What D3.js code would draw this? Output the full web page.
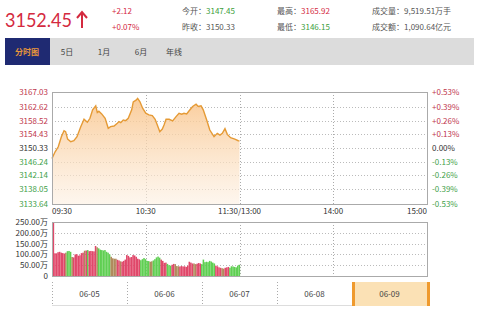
<!DOCTYPE html>
<html>
<head>
<meta charset="utf-8">
<script src="https://cdn.jsdelivr.net/npm/d3@7"></script>
<style>
  body { margin: 0; background: #fff; font-family: "Noto Sans CJK SC", "DejaVu Sans", sans-serif; }
  svg { display: block; }
</style>
</head>
<body>
<div id="chart"></div>
<script>
// header numbers
var lastPrice = "3152.45", change = "+2.12", changePct = "+0.07%";
var openPrice = "3147.45", prevClose = 3150.33, highPrice = "3165.92", lowPrice = "3146.15";
var volumeText = "9,519.51万手", amountText = "1,090.64亿元";
var tabs = ["分时图", "5日", "1月", "6月", "年线"];

// price axis
var priceTicks = [3167.03, 3162.62, 3158.52, 3154.43, 3150.33, 3146.24, 3142.14, 3138.05, 3133.64];
var pctTicks = ["+0.53%", "+0.39%", "+0.26%", "+0.13%", "0.00%", "-0.13%", "-0.26%", "-0.39%", "-0.53%"];
var timeLabels = ["09:30", "10:30", "11:30/13:00", "14:00", "15:00"];
var timeMinutes = [0, 60, 120, 180, 240];

// intraday price, minute after open
var minutes = [0, 2, 4, 6, 7.7, 8.7, 10, 12, 14, 16, 18.4, 20.5, 22.6, 24.3, 26, 28, 29, 30, 31.8, 34,
  36, 37.5, 39.7, 41.8, 42.9, 44, 45.6, 47.2, 48.8, 51, 52, 53.8, 54.8, 56.3, 58, 60, 62, 64.2, 66, 67.4,
  69, 70.6, 71.7, 73, 75, 77.2, 79.4, 81.3, 83, 84.5, 86.2, 87.9, 90, 92.2, 93.6, 95.4, 96.8, 99, 101, 103.7,
  105.8, 107.5, 109, 110.7, 112.2, 114.3, 117, 119.2, 120];
var prices = [3147.2, 3149.2, 3150.7, 3153.7, 3155.5, 3155.2, 3153.0, 3152.2, 3152.5, 3153.7, 3156.7, 3158.9, 3158.0, 3159.2, 3161.7, 3162.9, 3160.9, 3161.3, 3160.5, 3159.2,
  3156.2, 3156.7, 3156.9, 3157.7, 3158.2, 3157.9, 3158.7, 3158.5, 3159.2, 3161.7, 3164.1, 3164.6, 3165.1, 3164.1, 3162.2, 3160.7, 3160.2, 3160.0, 3158.9, 3157.2,
  3155.2, 3156.0, 3157.2, 3158.9, 3158.9, 3158.4, 3159.7, 3160.7, 3160.4, 3160.7, 3160.5, 3161.5, 3162.7, 3163.4, 3162.7, 3162.9, 3161.7, 3158.7, 3155.7, 3153.7,
  3154.7, 3154.2, 3154.7, 3156.1, 3154.4, 3153.4, 3153.0, 3152.5, 3152.45];

// volume per minute (万), colour flag: r up, g down, b flat
var volTicks = [250, 200, 150, 100, 50, 0];
var volumes = [250, 105, 105, 110, 112, 108, 106, 104, 108, 115, 116, 112, 88, 86, 100, 101, 94, 96, 106, 108,
  117, 118, 120, 115, 116, 115, 114, 139, 133, 128, 122, 120, 118, 120, 112, 108, 100, 89, 82, 80,
  80, 75, 72, 68, 66, 70, 76, 97, 93, 86, 88, 97, 95, 89, 80, 77, 73, 78, 83, 78,
  70, 69, 66, 68, 72, 78, 86, 90, 85, 76, 70, 61, 62, 56, 50, 48, 52, 56, 55, 46,
  45, 44, 46, 44, 45, 42, 48, 66, 62, 58, 58, 55, 57, 60, 58, 55, 76, 64, 66, 64,
  70, 67, 62, 58, 48, 45, 40, 38, 36, 34, 38, 40, 42, 38, 45, 44, 42, 40, 48, 52];
var volColors = ("rrrrrrrrbgggbrrrrrrr" + "brgrrrrrbggggggggbbb" + "brrbrrrrrrrrrrrrgggg" +
  "ggbbgggggrrrrgggrrbb" + "brrrrrrrrrbbrrrggggg" + "ggggrrrrbbrrrggggggg").split("");
var dates = ["06-05", "06-06", "06-07", "06-08", "06-09"];

var W = 480, H = 311;
var red = "#d42a3f", green = "#3c9e3c";
var svg = d3.select("#chart").append("svg").attr("width", W).attr("height", H);

// ---- header
svg.append("text").attr("x", 5).attr("y", 27).attr("font-size", 20).attr("fill", red)
  .attr("font-family", "Lato, 'DejaVu Sans', sans-serif")
  .attr("textLength", 67).attr("lengthAdjust", "spacingAndGlyphs").text(lastPrice);
// arrow
svg.append("path").attr("d", "M82,13 L82,28 M77,18 L82,12 L87,18").attr("stroke", red)
  .attr("stroke-width", 2).attr("fill", "none");
svg.append("text").attr("x", 112).attr("y", 14).attr("font-size", 8).attr("fill", red).text(change);
svg.append("text").attr("x", 112).attr("y", 30).attr("font-size", 8).attr("fill", red).text(changePct);

function infoLine(x, y, label, val, col) {
  var t = svg.append("text").attr("x", x).attr("y", y).attr("font-size", 8).attr("fill", "#555");
  t.append("tspan").text(label + "：");
  t.append("tspan").attr("fill", col).text(val);
}
infoLine(182, 14, "今开", openPrice, green);
infoLine(182, 30, "昨收", prevClose.toFixed(2), "#555");
infoLine(277, 14, "最高", highPrice, red);
infoLine(277, 30, "最低", lowPrice, green);
infoLine(372, 14, "成交量", volumeText, "#555");
infoLine(372, 30, "成交额", amountText, "#555");

// ---- tabs
svg.append("rect").attr("x", 5).attr("y", 38).attr("width", 469).attr("height", 27).attr("fill", "#dcdcdc");
svg.append("rect").attr("x", 5).attr("y", 38).attr("width", 45).attr("height", 27).attr("fill", "#1f2a72");
var tabX = [27, 67, 104, 141, 174];
svg.selectAll(".tab").data(tabs).enter().append("text")
  .attr("x", function (d, i) { return tabX[i]; }).attr("y", 55)
  .attr("text-anchor", "middle").attr("font-size", 8)
  .attr("fill", function (d, i) { return i == 0 ? "#e8963a" : "#444"; })
  .attr("font-weight", function (d, i) { return i == 0 ? "bold" : "normal"; })
  .text(function (d) { return d; });

// ---- scales
var x = d3.scaleLinear().domain([0, 240]).range([52, 427]);
var y = d3.scaleLinear().domain([priceTicks[8], priceTicks[0]]).range([204, 92]);
var yv = d3.scaleLinear().domain([0, 250]).range([276, 222]);

// price grid
var grid = svg.append("g");
grid.selectAll("line.h").data(priceTicks.slice(1, 8)).enter().append("line")
  .attr("x1", 52).attr("x2", 427)
  .attr("y1", function (d) { return Math.round(y(d)) + 0.5; })
  .attr("y2", function (d) { return Math.round(y(d)) + 0.5; })
  .attr("stroke", "#bbb").attr("stroke-dasharray", "1,2");
grid.selectAll("line.v").data([60, 120, 180]).enter().append("line")
  .attr("x1", function (d) { return Math.round(x(d)) + 0.5; })
  .attr("x2", function (d) { return Math.round(x(d)) + 0.5; })
  .attr("y1", 92).attr("y2", 204)
  .attr("stroke", "#aaa").attr("stroke-dasharray", "1,2");

// area + line
var defs = svg.append("defs");
var grad = defs.append("linearGradient").attr("id", "fillGrad").attr("x1", 0).attr("y1", 0).attr("x2", 0).attr("y2", 1);
grad.append("stop").attr("offset", "0%").attr("stop-color", "#f9c48a").attr("stop-opacity", 0.85);
grad.append("stop").attr("offset", "100%").attr("stop-color", "#fdf0e2").attr("stop-opacity", 0.6);

var pts = minutes.map(function (m, i) { return [m, prices[i]]; });
var area = d3.area().x(function (d) { return x(d[0]); }).y0(204).y1(function (d) { return y(d[1]); });
var line = d3.line().x(function (d) { return x(d[0]); }).y(function (d) { return y(d[1]); });
svg.append("path").datum(pts).attr("d", area).attr("fill", "url(#fillGrad)");
svg.append("path").datum(pts).attr("d", line).attr("fill", "none").attr("stroke", "#e59a35").attr("stroke-width", 1.4);

svg.append("rect").attr("x", 52.5).attr("y", 92.5).attr("width", 375).attr("height", 112)
  .attr("fill", "none").attr("stroke", "#aaa");

// price labels
function tickCol(i) { return i < 4 ? "#c0364c" : (i == 4 ? "#333" : "#3f9f4a"); }
svg.selectAll(".pl").data(priceTicks).enter().append("text")
  .attr("x", 48).attr("y", function (d) { return y(d) + 3; })
  .attr("text-anchor", "end").attr("font-size", 8)
  .attr("fill", function (d, i) { return tickCol(i); })
  .text(function (d) { return d.toFixed(2); });
svg.selectAll(".pr").data(pctTicks).enter().append("text")
  .attr("x", 432).attr("y", function (d, i) { return y(priceTicks[i]) + 3; })
  .attr("font-size", 8)
  .attr("fill", function (d, i) { return tickCol(i); })
  .text(function (d) { return d; });

// time labels
svg.selectAll(".tl").data(timeLabels).enter().append("text")
  .attr("x", function (d, i) { return x(timeMinutes[i]); }).attr("y", 214)
  .attr("text-anchor", function (d, i) { return i == 0 ? "start" : (i == 4 ? "end" : "middle"); })
  .attr("font-size", 8).attr("fill", "#333")
  .text(function (d) { return d; });

// ---- volume
svg.selectAll("line.vh").data(volTicks.slice(1, 5)).enter().append("line")
  .attr("x1", 52).attr("x2", 427)
  .attr("y1", function (d) { return Math.round(yv(d)) + 0.5; })
  .attr("y2", function (d) { return Math.round(yv(d)) + 0.5; })
  .attr("stroke", "#bbb").attr("stroke-dasharray", "1,2");
svg.selectAll("line.vv").data([60, 120, 180]).enter().append("line")
  .attr("x1", function (d) { return Math.round(x(d)) + 0.5; })
  .attr("x2", function (d) { return Math.round(x(d)) + 0.5; })
  .attr("y1", 222).attr("y2", 276)
  .attr("stroke", "#aaa").attr("stroke-dasharray", "1,2");

var colMap = { r: "#e0486a", g: "#5fcf52", b: "#b08a5c" };
var bw = x(1) - x(0);
svg.selectAll("rect.vol").data(volumes).enter().append("rect")
  .attr("x", function (d, i) { return x(i) + 0.6; })
  .attr("y", function (d) { return yv(d); })
  .attr("width", bw)
  .attr("height", function (d) { return 276 - yv(d); })
  .attr("fill", function (d, i) { return colMap[volColors[i]]; });

svg.append("rect").attr("x", 52.5).attr("y", 222.5).attr("width", 375).attr("height", 54)
  .attr("fill", "none").attr("stroke", "#aaa");

svg.selectAll(".vl").data(volTicks).enter().append("text")
  .attr("x", 48).attr("y", function (d) { return yv(d) + 3; })
  .attr("text-anchor", "end").attr("font-size", 8).attr("fill", "#333")
  .text(function (d) { return d == 0 ? "0" : d.toFixed(2) + "万"; });

// ---- date navigator
var nx = d3.scaleBand().domain(dates).range([52, 427]);
svg.append("line").attr("x1", 52).attr("x2", 430).attr("y1", 305.5).attr("y2", 305.5).attr("stroke", "#ddd");
svg.append("rect").attr("x", nx("06-09")).attr("y", 282).attr("width", nx.bandwidth() + 2).attr("height", 24)
  .attr("fill", "#fbe1b5");
[nx("06-09"), nx("06-09") + nx.bandwidth()].forEach(function (px) {
  svg.append("rect").attr("x", px).attr("y", 282).attr("width", 3).attr("height", 24).attr("fill", "#ef9a2e");
});
svg.selectAll("line.nd").data(dates.slice(0, 4)).enter().append("line")
  .attr("x1", function (d) { return Math.round(nx(d)) + 0.5; })
  .attr("x2", function (d) { return Math.round(nx(d)) + 0.5; })
  .attr("y1", 282).attr("y2", 305)
  .attr("stroke", "#aaa").attr("stroke-dasharray", "1,2");
svg.selectAll(".dl").data(dates).enter().append("text")
  .attr("x", function (d) { return nx(d) + nx.bandwidth() / 2; }).attr("y", 297)
  .attr("text-anchor", "middle").attr("font-size", 8).attr("fill", "#444")
  .text(function (d) { return d; });
</script>
</body>
</html>
